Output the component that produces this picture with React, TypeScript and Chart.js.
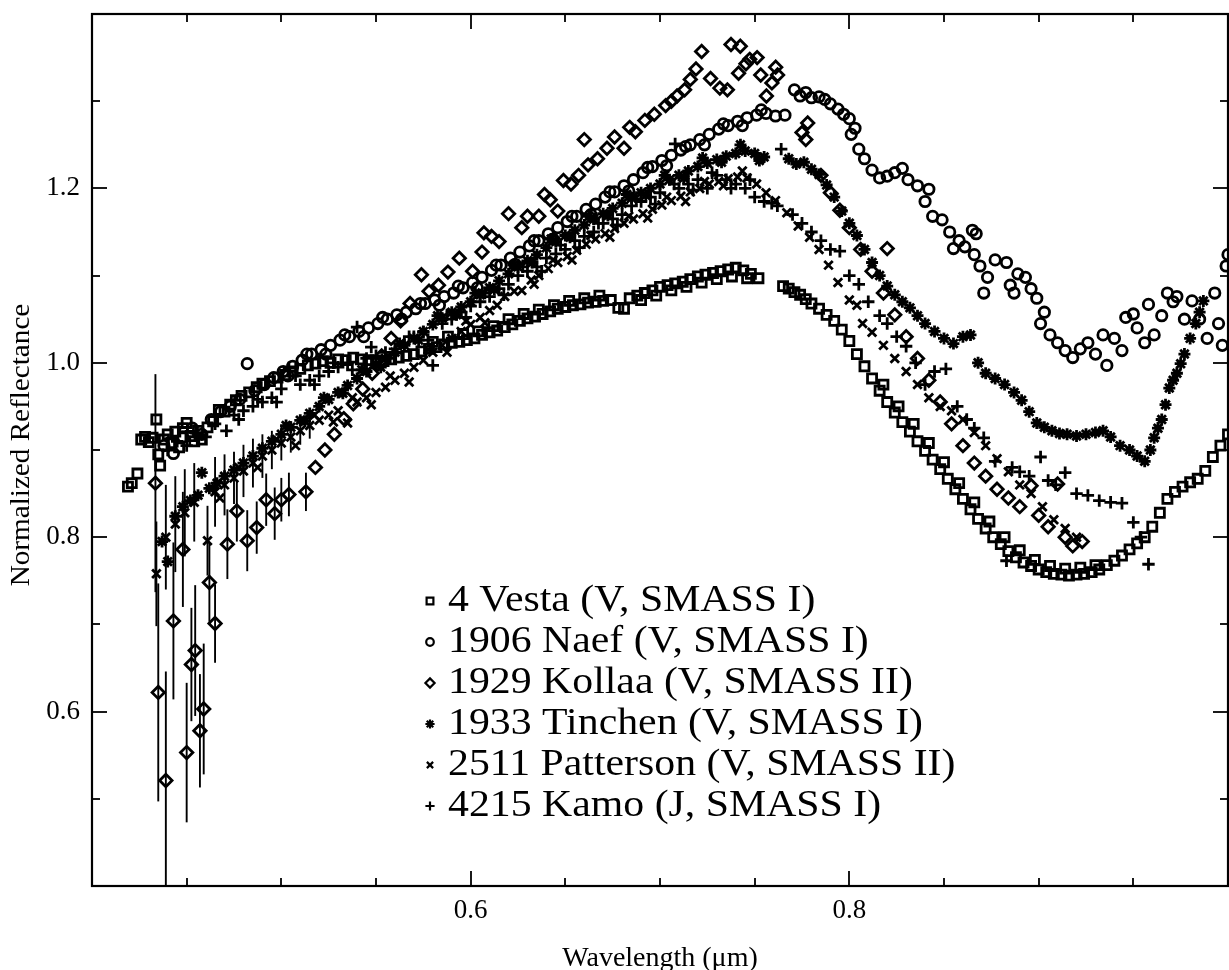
import React, { useEffect, useRef } from 'react';
import { Chart, registerables } from 'chart.js';
import { drawPoint } from 'chart.js/helpers';

Chart.register(...registerables);

// ---------------- data (wavelength µm, normalized reflectance) ----------------
const vesta: [number, number][] = [
  [0.419,0.858],[0.421,0.862],[0.424,0.873],[0.426,0.912],[0.428,0.915],[0.430,0.909],[0.432,0.914],[0.434,0.935],[0.435,0.895],[0.436,0.882],
  [0.438,0.912],[0.440,0.918],[0.442,0.908],[0.444,0.921],[0.446,0.903],[0.448,0.925],[0.450,0.931],[0.452,0.916],[0.454,0.910],[0.456,0.922],
  [0.458,0.912],[0.461,0.926],[0.464,0.933],[0.467,0.946],[0.470,0.944],[0.473,0.952],[0.476,0.957],[0.479,0.962],[0.483,0.966],[0.487,0.972],
  [0.490,0.976],[0.494,0.979],[0.498,0.983],[0.502,0.986],[0.506,0.990],[0.510,0.993],[0.514,0.997],[0.518,0.999],[0.522,1.002],[0.526,1.000],
  [0.530,1.004],[0.534,1.003],[0.538,1.006],[0.542,1.004],[0.546,1.003],[0.550,1.000],[0.554,1.002],[0.558,1.004],[0.562,1.006],[0.566,1.008],
  [0.570,1.010],[0.574,1.013],[0.578,1.016],[0.582,1.018],[0.586,1.021],[0.590,1.023],[0.594,1.024],[0.598,1.026],[0.602,1.028],[0.606,1.032],
  [0.610,1.035],[0.614,1.037],[0.618,1.041],[0.622,1.044],[0.626,1.048],[0.630,1.051],[0.634,1.053],[0.638,1.056],[0.642,1.059],[0.646,1.062],
  [0.650,1.064],[0.654,1.066],[0.658,1.067],[0.662,1.069],[0.666,1.070],[0.670,1.071],[0.674,1.072],[0.678,1.063],[0.681,1.062],[0.684,1.074],
  [0.688,1.077],[0.692,1.080],[0.696,1.083],[0.700,1.087],[0.704,1.089],[0.708,1.091],[0.712,1.093],[0.716,1.096],[0.720,1.099],[0.724,1.101],
  [0.728,1.103],[0.732,1.105],[0.736,1.107],[0.740,1.109],[0.744,1.106],[0.748,1.102],[0.752,1.097],
  [0.580,1.024],[0.588,1.030],[0.596,1.033],[0.604,1.036],[0.612,1.042],[0.620,1.050],[0.628,1.056],[0.636,1.061],[0.644,1.066],[0.652,1.071],
  [0.660,1.074],[0.668,1.077],[0.690,1.072],[0.698,1.077],[0.706,1.083],[0.714,1.087],[0.722,1.092],[0.730,1.096],[0.738,1.099],[0.746,1.097],
  [0.765,1.088],[0.768,1.085],[0.771,1.081],[0.774,1.078],[0.777,1.073],[0.780,1.068],[0.784,1.062],[0.788,1.055],[0.792,1.048],[0.796,1.038],
  [0.800,1.025],[0.804,1.010],[0.808,0.996],[0.812,0.982],[0.816,0.968],[0.820,0.955],[0.824,0.943],[0.828,0.932],[0.832,0.921],[0.836,0.910],
  [0.840,0.899],[0.844,0.889],[0.848,0.878],[0.852,0.867],[0.856,0.855],[0.860,0.844],[0.864,0.832],[0.868,0.821],[0.872,0.810],[0.876,0.800],
  [0.880,0.792],[0.884,0.784],[0.888,0.777],[0.892,0.771],[0.896,0.767],[0.900,0.763],[0.904,0.760],[0.908,0.758],[0.912,0.757],[0.916,0.756],
  [0.920,0.757],[0.924,0.758],[0.928,0.760],[0.932,0.763],[0.936,0.768],[0.940,0.773],[0.944,0.779],[0.948,0.786],[0.952,0.793],[0.956,0.800],
  [0.960,0.812],[0.964,0.828],[0.968,0.844],[0.972,0.852],[0.976,0.858],[0.980,0.863],[0.984,0.867],[0.988,0.876],[0.992,0.892],[0.996,0.905],
  [1.000,0.918],
  [0.818,0.975],[0.826,0.950],[0.834,0.930],[0.842,0.908],[0.850,0.886],[0.858,0.862],[0.866,0.840],[0.874,0.818],[0.882,0.800],[0.890,0.785],
  [0.898,0.774],[0.906,0.767],[0.914,0.764],[0.922,0.765],[0.930,0.768],
];

const naef: [number, number][] = [
  [0.438,0.905],[0.443,0.896],[0.448,0.915],[0.453,0.925],[0.458,0.918],[0.463,0.935],[0.468,0.944],[0.473,0.950],[0.478,0.958],[0.482,0.999],
  [0.486,0.968],[0.491,0.975],[0.496,0.983],[0.501,0.990],[0.506,0.996],[0.511,1.003],[0.516,1.010],[0.521,1.015],[0.526,1.020],[0.531,1.026],
  [0.536,1.030],[0.541,1.036],[0.546,1.040],[0.551,1.045],[0.556,1.050],[0.561,1.055],[0.566,1.058],[0.571,1.062],[0.576,1.068],[0.581,1.072],
  [0.586,1.076],[0.591,1.080],[0.596,1.086],[0.601,1.092],[0.606,1.098],[0.611,1.106],[0.616,1.112],[0.621,1.120],[0.626,1.127],[0.631,1.134],
  [0.636,1.140],[0.641,1.148],[0.646,1.155],[0.651,1.162],[0.656,1.168],[0.661,1.176],[0.666,1.182],[0.671,1.190],[0.676,1.196],[0.681,1.203],
  [0.686,1.210],[0.691,1.218],[0.696,1.225],[0.701,1.232],[0.706,1.238],[0.711,1.244],[0.716,1.250],[0.721,1.256],[0.726,1.262],[0.731,1.268],
  [0.736,1.272],[0.741,1.277],[0.746,1.281],[0.751,1.284],[0.756,1.286],[0.761,1.283],[0.766,1.284],
  [0.5035,0.985],[0.5135,1.010],[0.5235,1.010],[0.5335,1.032],[0.5435,1.030],[0.5535,1.052],[0.5635,1.050],[0.5735,1.068],[0.5835,1.066],[0.5935,1.088],
  [0.6035,1.086],[0.6135,1.112],[0.6235,1.113],[0.6335,1.140],[0.6435,1.142],[0.6535,1.168],[0.6635,1.170],[0.6735,1.196],[0.6835,1.197],[0.6935,1.224],
  [0.7035,1.226],[0.7135,1.248],[0.7235,1.250],[0.7335,1.274],[0.7435,1.272],[0.7535,1.290],
  [0.771,1.313],[0.774,1.306],[0.777,1.310],[0.780,1.304],[0.784,1.305],[0.787,1.302],[0.790,1.297],[0.794,1.291],[0.797,1.285],[0.800,1.280],
  [0.803,1.269],[0.801,1.262],
  [0.805,1.245],[0.808,1.234],[0.812,1.221],[0.816,1.212],[0.820,1.214],[0.824,1.218],[0.828,1.223],[0.831,1.210],[0.836,1.203],[0.842,1.199],
  [0.840,1.185],[0.844,1.168],[0.849,1.164],[0.853,1.150],[0.855,1.131],[0.858,1.140],[0.861,1.133],[0.865,1.152],[0.867,1.148],[0.866,1.124],
  [0.869,1.111],[0.873,1.098],[0.871,1.080],[0.877,1.118],[0.883,1.115],[0.885,1.089],[0.889,1.102],[0.893,1.098],[0.887,1.080],[0.896,1.085],
  [0.899,1.074],[0.903,1.058],[0.901,1.045],[0.906,1.032],[0.910,1.023],[0.914,1.014],[0.918,1.006],[0.922,1.016],[0.926,1.023],[0.930,1.010],
  [0.934,1.032],[0.936,0.997],[0.940,1.028],[0.944,1.014],[0.946,1.052],[0.950,1.056],[0.952,1.040],[0.956,1.023],[0.958,1.067],[0.961,1.032],
  [0.965,1.054],[0.968,1.080],[0.971,1.070],[0.973,1.076],[0.977,1.050],[0.981,1.071],[0.985,1.050],[0.989,1.028],[0.993,1.080],[0.995,1.045],
  [0.999,1.111],[1.000,1.124],[0.997,1.020],
];

const kollaa: [number, number][] = [
  [0.4335,0.862],[0.435,0.622],[0.439,0.521],[0.443,0.704],[0.448,0.786],[0.450,0.553],[0.4525,0.654],[0.4545,0.670],[0.457,0.578],[0.459,0.603],
  [0.462,0.748],[0.465,0.701],[0.4715,0.792],[0.4765,0.830],[0.482,0.796],[0.487,0.811],[0.492,0.843],[0.4965,0.827],[0.500,0.843],[0.504,0.849],
  [0.513,0.852],
  [0.518,0.880],[0.523,0.900],[0.528,0.918],[0.533,0.936],[0.538,0.953],[0.543,0.970],[0.548,0.988],[0.553,1.008],[0.558,1.028],[0.563,1.048],
  [0.568,1.068],[0.574,1.101],[0.578,1.082],[0.583,1.089],[0.588,1.104],[0.594,1.120],[0.601,1.105],[0.606,1.127],[0.607,1.149],[0.611,1.145],
  [0.615,1.139],[0.620,1.171],[0.627,1.155],[0.630,1.168],[0.636,1.168],[0.639,1.193],[0.642,1.187],[0.646,1.174],[0.649,1.209],[0.653,1.205],
  [0.657,1.215],[0.660,1.256],[0.662,1.227],[0.667,1.234],[0.672,1.246],[0.676,1.259],[0.681,1.246],[0.684,1.270],[0.687,1.265],[0.692,1.278],
  [0.697,1.285],[0.703,1.295],[0.706,1.300],[0.709,1.306],[0.713,1.313],[0.716,1.325],[0.719,1.337],[0.722,1.357],[0.7267,1.326],[0.7316,1.315],
  [0.7356,1.313],[0.7375,1.365],[0.7415,1.332],[0.7424,1.363],[0.7454,1.343],[0.7474,1.348],[0.7513,1.350],[0.7532,1.330],[0.7562,1.306],[0.7591,1.321],
  [0.7611,1.339],[0.7621,1.330],[0.775,1.264],[0.778,1.275],[0.777,1.256],[0.785,1.215],[0.790,1.195],[0.795,1.175],[0.800,1.155],[0.806,1.130],
  [0.812,1.105],[0.818,1.080],[0.820,1.131],[0.824,1.055],[0.830,1.030],[0.836,1.005],[0.842,0.980],[0.848,0.955],[0.854,0.930],[0.860,0.905],
  [0.866,0.885],[0.872,0.870],[0.878,0.855],[0.884,0.845],[0.890,0.835],[0.896,0.859],[0.900,0.825],[0.905,0.812],[0.910,0.861],[0.914,0.800],
  [0.918,0.790],[0.923,0.795],
];
const kollaaErrors = [
  0.125,0.125,0.125,0.09,0.066,0.08,0.065,0.075,0.065,0.075,
  0.045,0.045,0.04,0.035,0.035,0.03,0.03,0.03,0.025,0.025,
  0.022,
];

const tinchen: [number, number][] = [
  [0.437,0.795],[0.440,0.772],[0.444,0.824],[0.448,0.835],[0.452,0.842],[0.456,0.848],[0.458,0.874],[0.462,0.856],[0.466,0.862],[0.470,0.870],
  [0.475,0.877],[0.480,0.885],[0.485,0.893],[0.490,0.902],[0.495,0.910],[0.500,0.918],[0.505,0.926],[0.510,0.934],[0.515,0.942],[0.520,0.950],
  [0.525,0.958],[0.530,0.966],[0.535,0.974],[0.540,0.982],[0.545,0.990],[0.550,0.998],[0.555,1.005],[0.560,1.012],[0.565,1.020],[0.570,1.028],
  [0.575,1.036],[0.580,1.044],[0.585,1.051],[0.590,1.058],[0.595,1.064],[0.600,1.070],[0.605,1.078],[0.610,1.086],[0.615,1.094],[0.620,1.102],
  [0.625,1.110],[0.630,1.117],[0.635,1.124],[0.640,1.132],[0.645,1.139],[0.650,1.146],[0.655,1.152],[0.660,1.158],[0.665,1.165],[0.670,1.171],
  [0.675,1.177],[0.680,1.183],[0.685,1.189],[0.690,1.195],[0.695,1.200],[0.700,1.205],[0.705,1.210],[0.710,1.215],[0.715,1.220],[0.720,1.225],
  [0.725,1.229],[0.730,1.233],[0.735,1.237],[0.740,1.240],[0.745,1.243],[0.750,1.240],[0.755,1.236],
  [0.5025,0.928],[0.5125,0.933],[0.5225,0.960],[0.5325,0.965],[0.5425,0.992],[0.5525,0.995],[0.5625,1.022],[0.5725,1.026],[0.5825,1.054],[0.5925,1.055],
  [0.6025,1.080],[0.6125,1.084],[0.6225,1.112],[0.6325,1.115],[0.6425,1.142],[0.6525,1.144],[0.6625,1.168],[0.6725,1.169],[0.6825,1.193],[0.6925,1.192],
  [0.7025,1.215],[0.7125,1.212],[0.7225,1.235],[0.7325,1.230],[0.7425,1.250],[0.7525,1.232],
  [0.768,1.234],[0.772,1.228],[0.776,1.230],[0.780,1.222],[0.784,1.216],[0.788,1.204],[0.792,1.190],[0.796,1.174],[0.800,1.160],[0.804,1.146],
  [0.808,1.130],[0.812,1.115],[0.816,1.100],[0.820,1.088],[0.824,1.078],[0.828,1.070],[0.832,1.063],[0.836,1.054],[0.840,1.045],[0.845,1.036],
  [0.850,1.028],[0.855,1.022],[0.860,1.030],[0.864,1.032],[0.868,1.000],[0.872,0.988],[0.877,0.982],[0.882,0.975],[0.887,0.966],[0.891,0.957],
  [0.895,0.944],[0.899,0.931],[0.903,0.926],[0.907,0.922],[0.911,0.919],[0.915,0.918],[0.920,0.916],[0.925,0.918],[0.930,0.920],[0.934,0.922],
  [0.938,0.915],[0.943,0.905],[0.948,0.900],[0.952,0.893],[0.956,0.887],[0.959,0.900],[0.961,0.914],[0.963,0.925],[0.965,0.935],[0.967,0.952],
  [0.969,0.971],[0.971,0.980],[0.973,0.988],[0.975,0.999],[0.977,1.010],[0.980,1.028],[0.983,1.045],[0.985,1.058],[0.987,1.071],
];

const patterson: [number, number][] = [
  [0.434,0.758],[0.439,0.800],[0.444,0.815],[0.449,0.828],[0.454,0.840],[0.461,0.796],[0.465,0.852],[0.470,0.860],[0.475,0.868],[0.480,0.876],
  [0.485,0.885],[0.490,0.893],[0.495,0.900],[0.500,0.908],[0.505,0.915],[0.510,0.922],[0.515,0.928],[0.520,0.934],[0.525,0.940],[0.530,0.945],
  [0.535,0.931],[0.540,0.955],[0.545,0.960],[0.550,0.966],[0.555,0.972],[0.560,0.980],[0.565,0.988],[0.570,0.995],[0.575,1.003],[0.580,1.012],
  [0.585,1.020],[0.590,1.028],[0.595,1.036],[0.600,1.044],[0.605,1.052],[0.610,1.060],[0.614,1.066],[0.618,1.076],[0.623,1.082],[0.627,1.083],
  [0.632,1.095],[0.636,1.100],[0.641,1.108],[0.646,1.115],[0.651,1.122],[0.656,1.129],[0.661,1.136],[0.666,1.142],[0.671,1.148],[0.676,1.154],
  [0.681,1.160],[0.686,1.165],[0.691,1.171],[0.696,1.176],[0.701,1.181],[0.706,1.186],[0.711,1.191],[0.716,1.196],[0.721,1.200],[0.726,1.205],
  [0.731,1.208],[0.736,1.211],[0.741,1.213],[0.746,1.212],[0.751,1.205],[0.756,1.195],[0.761,1.186],[0.767,1.172],[0.773,1.157],[0.779,1.144],
  [0.784,1.130],[0.789,1.112],[0.794,1.092],[0.800,1.072],[0.804,1.066],[0.807,1.045],[0.812,1.035],[0.818,1.020],[0.824,1.005],[0.830,0.990],
  [0.836,0.975],[0.842,0.960],[0.848,0.950],[0.854,0.945],[0.860,0.935],[0.866,0.920],[0.872,0.905],[0.878,0.890],[0.884,0.875],[0.890,0.860],
  [0.896,0.850],[0.902,0.835],[0.908,0.820],[0.914,0.810],[0.920,0.800],
  [0.4675,0.845],[0.4775,0.880],[0.4875,0.880],[0.4975,0.912],[0.5075,0.905],[0.5175,0.940],[0.5275,0.932],[0.5375,0.960],[0.5475,0.952],[0.5575,0.985],
  [0.5675,0.978],[0.5775,1.015],[0.5875,1.012],[0.5975,1.048],[0.6075,1.046],[0.6335,1.090],[0.6435,1.118],[0.6535,1.118],[0.6635,1.146],[0.6735,1.144],
  [0.6835,1.168],[0.6935,1.166],[0.7035,1.190],[0.7135,1.185],[0.7235,1.208],[0.7335,1.203],[0.7435,1.220],
];
const pattersonErrors = [
  0.06,0.06,0.055,0.05,0.045,0.04,0.04,0.035,0.03,0.03,
  0.028,0.025,0.022,0.02,0.018,0.016,0.015,
];

const kamo: [number, number][] = [
  [0.440,0.900],[0.445,0.910],[0.450,0.905],[0.455,0.920],[0.460,0.915],[0.465,0.930],[0.471,0.922],[0.475,0.940],[0.480,0.945],[0.485,0.950],
  [0.490,0.955],[0.495,0.960],[0.500,0.970],[0.504,0.994],[0.510,0.975],[0.515,0.980],[0.520,0.985],[0.525,0.990],[0.530,0.995],[0.535,1.000],
  [0.540,1.041],[0.545,1.005],[0.550,1.008],[0.555,1.012],[0.560,1.016],[0.565,1.022],[0.570,1.030],[0.575,1.035],[0.580,0.997],[0.585,1.045],
  [0.590,1.050],[0.595,1.058],[0.600,1.065],[0.605,1.070],[0.610,1.076],[0.615,1.085],[0.620,1.090],[0.625,1.100],[0.630,1.105],[0.635,1.110],
  [0.640,1.120],[0.645,1.125],[0.650,1.130],[0.655,1.140],[0.660,1.145],[0.665,1.150],[0.670,1.160],[0.675,1.165],[0.680,1.170],[0.685,1.180],
  [0.690,1.185],[0.695,1.190],[0.700,1.195],[0.708,1.251],[0.710,1.200],[0.715,1.205],[0.720,1.210],[0.725,1.200],[0.730,1.215],[0.735,1.210],
  [0.740,1.205],[0.745,1.200],[0.750,1.190],[0.755,1.185],[0.759,1.183],[0.762,1.180],[0.764,1.245],[0.770,1.170],[0.775,1.160],[0.780,1.150],
  [0.785,1.140],[0.790,1.130],[0.795,1.128],[0.800,1.100],[0.805,1.090],[0.810,1.070],[0.816,1.054],[0.820,1.045],[0.825,1.030],[0.830,1.019],
  [0.835,1.000],[0.840,0.975],[0.845,0.990],[0.851,0.993],[0.857,0.950],[0.862,0.935],[0.866,0.925],[0.871,0.914],[0.877,0.887],[0.883,0.773],
  [0.886,0.880],[0.890,0.875],[0.895,0.870],[0.901,0.892],[0.905,0.865],[0.909,0.860],[0.914,0.874],[0.920,0.850],[0.926,0.848],[0.932,0.842],
  [0.938,0.840],[0.944,0.839],[0.950,0.817],[0.954,0.800],[0.958,0.769],
  [0.4775,0.935],[0.4875,0.958],[0.4975,0.955],[0.5075,0.985],[0.5175,0.975],[0.5275,1.000],[0.5375,0.992],[0.5475,1.018],[0.5575,1.005],[0.5675,1.030],
  [0.5775,1.026],[0.5875,1.055],[0.5975,1.052],[0.6075,1.080],[0.6175,1.078],[0.6275,1.110],[0.6375,1.105],[0.6475,1.135],[0.6575,1.132],[0.6675,1.160],
  [0.6775,1.158],[0.6875,1.188],[0.6975,1.182],[0.7075,1.205],[0.7175,1.198],[0.7275,1.218],[0.7375,1.200],[0.7475,1.210],
];

const seriesLabels = [
  '4 Vesta (V, SMASS I)',
  '1906 Naef (V, SMASS I)',
  '1929 Kollaa (V, SMASS II)',
  '1933 Tinchen (V, SMASS I)',
  '2511 Patterson (V, SMASS II)',
  '4215 Kamo (J, SMASS I)',
];

// axis ticks
const xTickMarks = [0.45, 0.5, 0.55, 0.6, 0.65, 0.7, 0.75, 0.8, 0.85, 0.9, 0.95];
const xLabelTicks = [0.6, 0.8];
const yTickMarks = [0.5, 0.6, 0.7, 0.8, 0.9, 1.0, 1.1, 1.2, 1.3];
const yLabelTicks = [0.6, 0.8, 1.0, 1.2];

// ---------------- styling ----------------
const SERIF = "'Liberation Serif', 'DejaVu Serif', 'Times New Roman', serif";
const INK = '#000';
const Y_TITLE = 'Normalized Reflectance';

const seriesStyles = [
  { pointStyle: 'rect', radius: 6.4, legendRadius: 4.8 },
  { pointStyle: 'circle', radius: 5.2, legendRadius: 3.8 },
  { pointStyle: 'rectRot', radius: 6.2, legendRadius: 4.6 },
  { pointStyle: 'star', radius: 6, legendRadius: 4.6 },
  { pointStyle: 'crossRot', radius: 6, legendRadius: 4.4 },
  { pointStyle: 'cross', radius: 6.2, legendRadius: 4.6 },
];
const seriesPoints = [vesta, naef, kollaa, tinchen, patterson, kamo];
const seriesErrors: number[][] = [[], [], kollaaErrors, [], pattersonErrors, []];

const framePlugin = {
  id: 'frameTicks',
  afterDraw(chart: any) {
    const { ctx, chartArea, scales } = chart;
    const { left, right, top, bottom } = chartArea;
    const x = scales.x;
    const y = scales.y;
    ctx.save();
    ctx.strokeStyle = INK;
    ctx.lineWidth = 2.2;
    ctx.strokeRect(left, top, right - left, bottom - top);
    ctx.lineWidth = 1.8;
    const seg = (x1: number, y1: number, x2: number, y2: number) => {
      ctx.beginPath();
      ctx.moveTo(x1, y1);
      ctx.lineTo(x2, y2);
      ctx.stroke();
    };
    xTickMarks.forEach((v) => {
      const px = Math.round(x.getPixelForValue(v));
      const len = xLabelTicks.includes(v) ? 15 : 8;
      seg(px, bottom, px, bottom - len);
      seg(px, top, px, top + len);
    });
    yTickMarks.forEach((v) => {
      const py = Math.round(y.getPixelForValue(v));
      const len = yLabelTicks.includes(v) ? 15 : 8;
      seg(left, py, left + len, py);
      seg(right, py, right - len, py);
    });
    // y-axis title
    ctx.fillStyle = INK;
    ctx.font = `27px ${SERIF}`;
    ctx.textAlign = 'center';
    ctx.textBaseline = 'middle';
    ctx.translate(22, (top + bottom) / 2 - 5);
    ctx.rotate(-Math.PI / 2);
    ctx.scale(1.08, 1);
    ctx.fillText(Y_TITLE, 0, 0);
    ctx.restore();
  },
};

const errorBarPlugin = {
  id: 'errorBars',
  beforeDatasetsDraw(chart: any) {
    const { ctx, chartArea, scales } = chart;
    const x = scales.x;
    const y = scales.y;
    ctx.save();
    ctx.beginPath();
    ctx.rect(chartArea.left, chartArea.top, chartArea.right - chartArea.left, chartArea.bottom - chartArea.top);
    ctx.clip();
    ctx.strokeStyle = INK;
    ctx.lineWidth = 1.9;
    chart.data.datasets.forEach((ds: any) => {
      const errs: number[] = ds.errorBars || [];
      ds.data.forEach((p: any, i: number) => {
        const e = errs[i];
        if (!e) return;
        const px = x.getPixelForValue(p.x);
        ctx.beginPath();
        ctx.moveTo(px, y.getPixelForValue(p.y - e));
        ctx.lineTo(px, y.getPixelForValue(p.y + e));
        ctx.stroke();
      });
    });
    ctx.restore();
  },
};

const LEGEND_MARKER_X = 338;
const LEGEND_TEXT_X = 356;
const LEGEND_TOP = 587;
const LEGEND_STEP = 41;

const legendPlugin = {
  id: 'insideLegend',
  afterDatasetsDraw(chart: any) {
    const { ctx, chartArea } = chart;
    ctx.save();
    chart.data.datasets.forEach((ds: any, i: number) => {
      const yy = chartArea.top + LEGEND_TOP + i * LEGEND_STEP;
      ctx.strokeStyle = INK;
      ctx.fillStyle = 'rgba(0,0,0,0)';
      ctx.lineWidth = 2.2;
      drawPoint(
        ctx,
        { pointStyle: ds.pointStyle, rotation: 0, radius: ds.legendRadius, borderWidth: 2.2 } as any,
        chartArea.left + LEGEND_MARKER_X,
        yy
      );
      ctx.save();
      ctx.fillStyle = INK;
      ctx.font = `38px ${SERIF}`;
      ctx.textAlign = 'left';
      ctx.textBaseline = 'middle';
      ctx.translate(chartArea.left + LEGEND_TEXT_X, yy);
      ctx.scale(1.1, 1);
      ctx.fillText(ds.label, 0, 0);
      ctx.restore();
    });
    ctx.restore();
  },
};

export default function App() {
  const ref = useRef<HTMLCanvasElement>(null);

  useEffect(() => {
    if (!ref.current) return;
    const datasets = seriesPoints.map((pts, i) => ({
      label: seriesLabels[i],
      data: pts.map(([wl, r]) => ({ x: wl, y: r })),
      errorBars: seriesErrors[i],
      legendRadius: seriesStyles[i].legendRadius,
      showLine: false,
      pointStyle: seriesStyles[i].pointStyle,
      pointRadius: seriesStyles[i].radius,
      pointHoverRadius: seriesStyles[i].radius,
      pointBorderWidth: 2.8,
      pointBorderColor: INK,
      pointBackgroundColor: 'rgba(0,0,0,0)',
      borderColor: INK,
      backgroundColor: 'rgba(0,0,0,0)',
    }));

    const zeroPad = (scale: any) => {
      scale.paddingTop = 0;
      scale.paddingBottom = 0;
      scale.paddingLeft = 0;
      scale.paddingRight = 0;
    };

    const chart = new Chart(ref.current, {
      type: 'scatter',
      data: { datasets } as any,
      options: {
        animation: false,
        responsive: false,
        devicePixelRatio: 1,
        events: [],
        layout: { autoPadding: false, padding: { top: 14, right: 1, left: 0, bottom: 0 } },
        plugins: {
          legend: { display: false },
          tooltip: { enabled: false },
          title: { display: false },
        },
        scales: {
          x: {
            type: 'linear',
            min: 0.4,
            max: 1.0,
            grid: { display: false, drawTicks: false },
            border: { display: false },
            afterBuildTicks: (scale: any) => {
              scale.ticks = xLabelTicks.map((v) => ({ value: v }));
            },
            afterFit: (scale: any) => {
              scale.height = 84;
              zeroPad(scale);
            },
            ticks: {
              autoSkip: false,
              maxRotation: 0,
              padding: 9,
              color: INK,
              font: { family: SERIF, size: 27 },
              callback: (v: any) => Number(v).toFixed(1),
            },
            title: {
              display: true,
              text: 'Wavelength (μm)',
              color: INK,
              font: { family: SERIF, size: 28, lineHeight: 0.8 },
              padding: { top: 0, bottom: 0 },
            },
          },
          y: {
            type: 'linear',
            min: 0.4,
            max: 1.4,
            grid: { display: false, drawTicks: false },
            border: { display: false },
            afterBuildTicks: (scale: any) => {
              scale.ticks = yLabelTicks.map((v) => ({ value: v }));
            },
            afterFit: (scale: any) => {
              scale.width = 92;
              zeroPad(scale);
            },
            ticks: {
              autoSkip: false,
              padding: 12,
              color: INK,
              font: { family: SERIF, size: 27 },
              callback: (v: any) => Number(v).toFixed(1),
            },
            title: { display: false },
          },
        },
      } as any,
      plugins: [errorBarPlugin, legendPlugin, framePlugin],
    });

    return () => chart.destroy();
  }, []);

  return (
    <div style={{ position: 'absolute', left: 0, top: 0, width: 1229, height: 970, background: '#fff' }}>
      <canvas ref={ref} width={1229} height={970} style={{ display: 'block', width: 1229, height: 970 }} />
    </div>
  );
}
